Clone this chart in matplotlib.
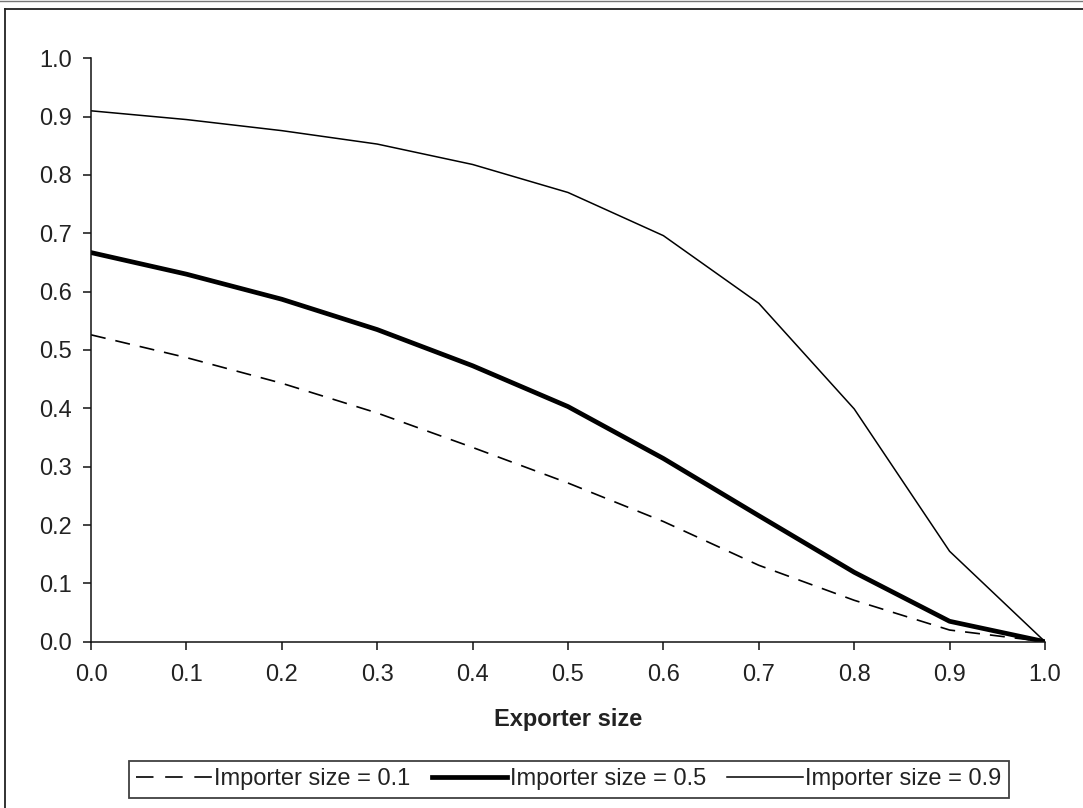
import matplotlib
matplotlib.use("Agg")
import matplotlib.pyplot as plt
from matplotlib.lines import Line2D
from matplotlib.legend_handler import HandlerLine2D

plt.rcParams['font.family'] = ['Liberation Sans', 'DejaVu Sans']

exporter_size = [0.0, 0.1, 0.2, 0.3, 0.4, 0.5, 0.6, 0.7, 0.8, 0.9, 1.0]
importer_01 = [0.526, 0.487, 0.443, 0.392, 0.333, 0.272, 0.206, 0.131, 0.071, 0.020, 0.0]
importer_05 = [0.667, 0.630, 0.587, 0.535, 0.473, 0.403, 0.314, 0.216, 0.119, 0.035, 0.0]
importer_09 = [0.910, 0.895, 0.876, 0.853, 0.818, 0.770, 0.696, 0.580, 0.399, 0.155, 0.0]
series_labels = ["Importer size = 0.1", "Importer size = 0.5", "Importer size = 0.9"]
x_ticks = [0.0, 0.1, 0.2, 0.3, 0.4, 0.5, 0.6, 0.7, 0.8, 0.9, 1.0]
y_ticks = [0.0, 0.1, 0.2, 0.3, 0.4, 0.5, 0.6, 0.7, 0.8, 0.9, 1.0]
x_label = "Exporter size"

W, H = 1083, 808
fig = plt.figure(figsize=(W / 100, H / 100), dpi=100)
ax = fig.add_axes([91 / W, 1 - 641.7 / H, (1045 - 91) / W, (641.7 - 58.3) / H])

FS = 17
TXT = '#222222'

dashed, = ax.plot(exporter_size, importer_01, color='black', lw=1.2, linestyle=(0, (9, 6)),
                  label=series_labels[0])
ax.plot(exporter_size, importer_05, color='black', lw=3.4, solid_joinstyle='round',
        label=series_labels[1])
ax.plot(exporter_size, importer_09, color='black', lw=1.1, label=series_labels[2])

ax.set_xlim(0, 1)
ax.set_ylim(0, 1)
ax.set_xticks(x_ticks)
ax.set_yticks(y_ticks)
ax.set_xticklabels([f"{v:.1f}" for v in x_ticks])
ax.set_yticklabels([f"{v:.1f}" for v in y_ticks])
for s in ['top', 'right']:
    ax.spines[s].set_visible(False)
for s in ['left', 'bottom']:
    ax.spines[s].set_linewidth(1.1)
    ax.spines[s].set_color('#111111')
ax.tick_params(axis='x', direction='out', length=6, width=1.1, pad=10,
               labelsize=FS, labelcolor=TXT, color='#111111')
ax.tick_params(axis='y', direction='out', length=6, width=1.1, pad=8,
               labelsize=FS, labelcolor=TXT, color='#111111')
ax.set_xlabel(x_label, fontsize=FS, fontweight='bold', color=TXT, labelpad=16)


def _legend_dash(legline, orig):
    legline.update_from(orig)
    legline.set_linestyle((0, (10.5, 7)))


leg = fig.legend(loc='center', bbox_to_anchor=(569 / W, 1 - 779.5 / H), ncol=3,
                 fontsize=FS, frameon=True, fancybox=False, shadow=False,
                 handlelength=3.2, handletextpad=0.1, columnspacing=0.9,
                 borderpad=0.3, borderaxespad=0.0,
                 handler_map={dashed: HandlerLine2D(update_func=_legend_dash)})
leg.get_frame().set_edgecolor('#111111')
leg.get_frame().set_linewidth(1.3)
for t in leg.get_texts():
    t.set_color(TXT)

# outer frame (partly cut off in the reference)
fig.add_artist(Line2D([5 / W, 1.0], [1 - 9.3 / H, 1 - 9.3 / H], transform=fig.transFigure,
                      color='#222222', lw=1.3))
fig.add_artist(Line2D([5 / W, 5 / W], [1 - 9.3 / H, 0.0], transform=fig.transFigure,
                      color='#222222', lw=1.3))
fig.add_artist(Line2D([0.0, 1.0], [1 - 0.6 / H, 1 - 0.6 / H], transform=fig.transFigure,
                      color='#777777', lw=1.0))

fig.savefig("out.png", dpi=100)
